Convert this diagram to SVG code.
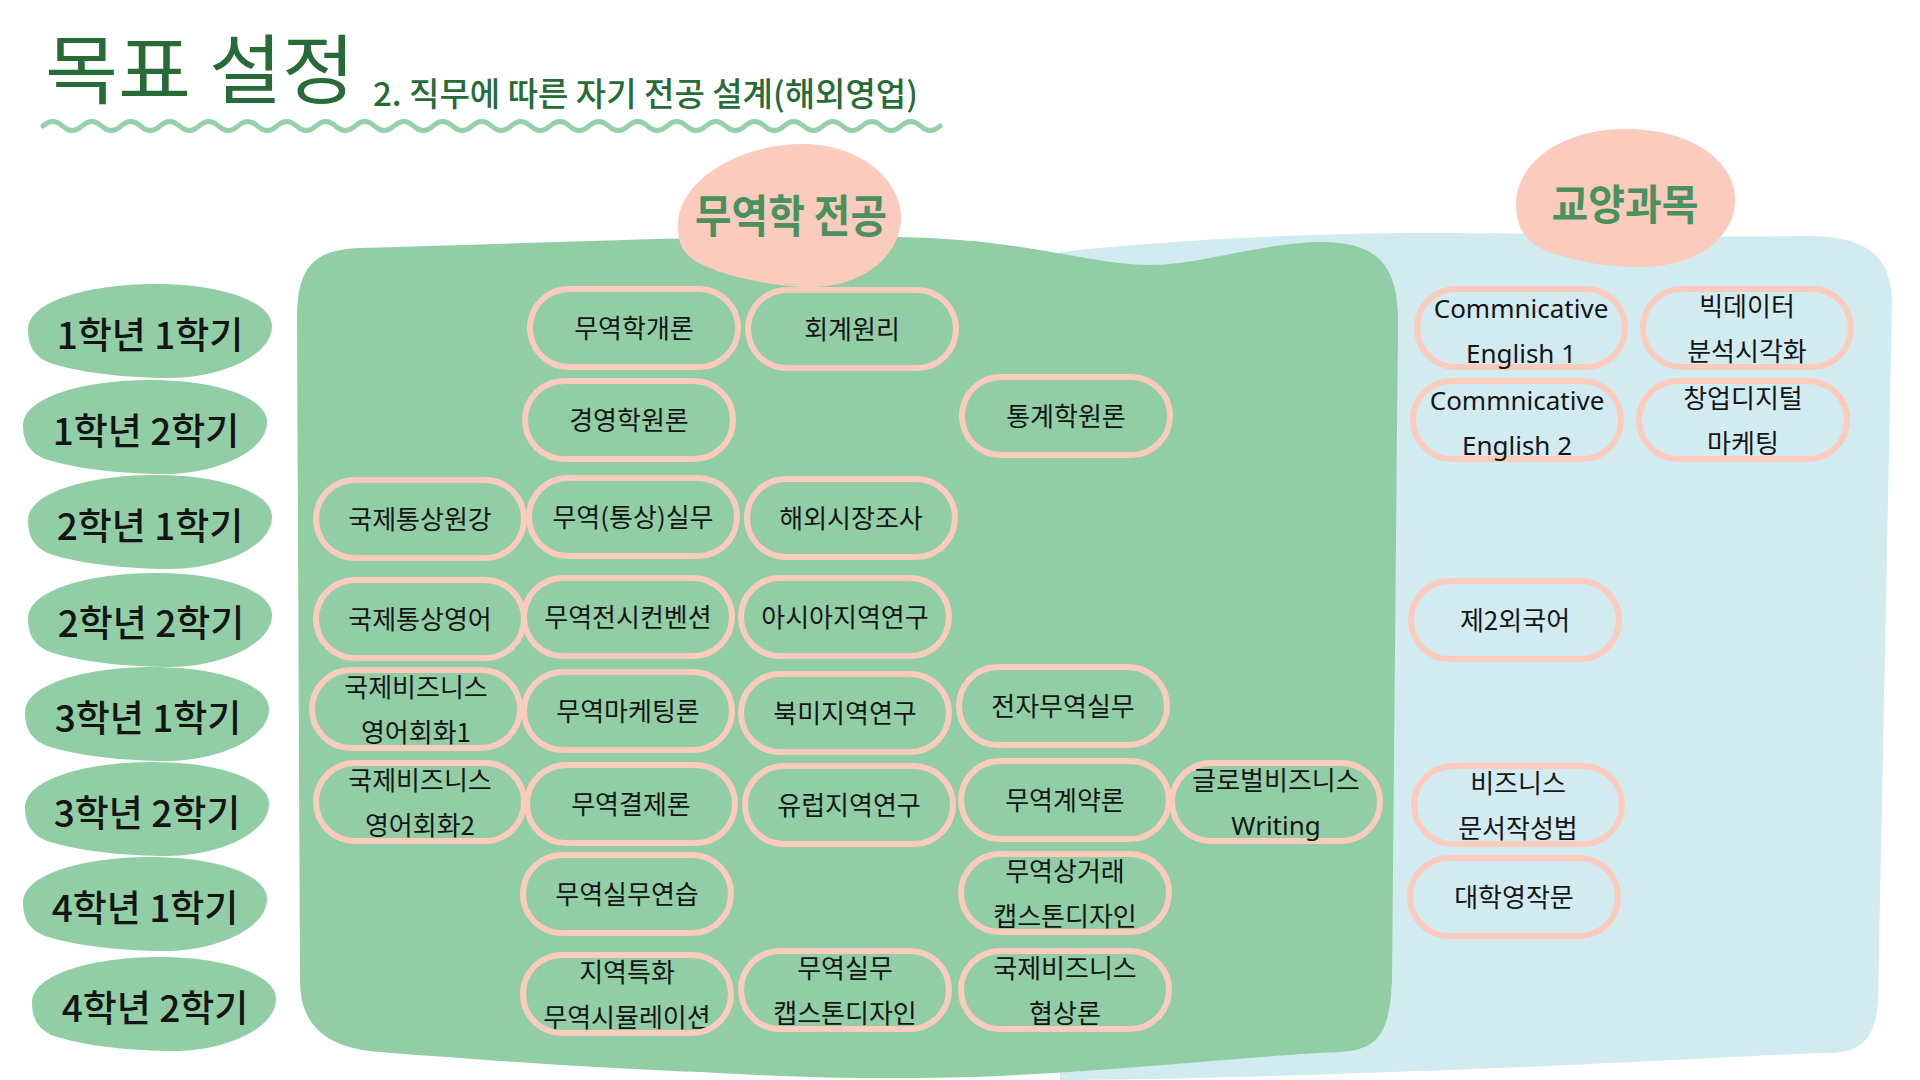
<svg xmlns="http://www.w3.org/2000/svg" xmlns:xlink="http://www.w3.org/1999/xlink" width="1920" height="1080" viewBox="0 0 1920 1080">
<defs>
<style>
.kr{font-family:"Noto Sans CJK KR","Noto Sans",sans-serif;}
.en{font-family:"Noto Sans","Noto Sans CJK KR",sans-serif;}
.title{fill:#276b38;}
.sem{font-size:37px;font-weight:500;fill:#151515;text-anchor:middle;}
.semblob{fill:#92cea5;}
.t{font-size:26px;fill:#151515;text-anchor:middle;}
.te{font-size:26px;fill:#151515;text-anchor:middle;}
.pill{fill:none;stroke:#fbcbbd;stroke-width:6;}
.head{font-weight:700;fill:#4b9160;text-anchor:middle;}
</style>
<path id="semshape" d="M -122 -2 C -122 -30 -60 -47 5 -47 C 70 -47 122 -30 122 -5 C 122 25 70 47 20 47 C -20 47 -70 42 -100 32 C -118 25 -122 12 -122 -2 Z"/>
</defs>
<rect width="1920" height="1080" fill="#ffffff"/>

<!-- background regions -->
<path id="general-area" d="M 1060 252 C 1150 242 1300 232 1450 233 C 1600 234 1700 238 1800 236 C 1860 235 1890 250 1892 300 L 1878 1000 C 1876 1040 1860 1052 1830 1053 C 1750 1055 1650 1062 1500 1068 C 1300 1076 1150 1080 1060 1080 Z" fill="#d2ebf0"/>
<path id="major-area" d="M 297 320 C 297 270 310 250 360 248 C 480 245 600 240 700 238 C 800 236 880 234 960 240 C 1050 247 1100 265 1150 265 C 1200 265 1260 243 1320 242 C 1370 242 1398 258 1398 320 L 1392 980 C 1390 1030 1380 1050 1340 1052 C 1250 1056 1150 1068 1000 1076 C 900 1080 800 1078 700 1072 C 600 1068 480 1060 380 1052 C 320 1048 300 1020 300 980 Z" fill="#92cea5"/>

<!-- title -->
<g id="title">
<text class="kr title" x="45" y="98" font-size="76" textLength="310" lengthAdjust="spacingAndGlyphs">목표 설정</text>
<text class="kr title" x="373" y="106" font-size="33" font-weight="500" textLength="545" lengthAdjust="spacingAndGlyphs">2. 직무에 따른 자기 전공 설계(해외영업)</text>
<path d="M43 126 q9.75 -9 19.5 0 t19.5 0 t19.5 0 t19.5 0 t19.5 0 t19.5 0 t19.5 0 t19.5 0 t19.5 0 t19.5 0 t19.5 0 t19.5 0 t19.5 0 t19.5 0 t19.5 0 t19.5 0 t19.5 0 t19.5 0 t19.5 0 t19.5 0 t19.5 0 t19.5 0 t19.5 0 t19.5 0 t19.5 0 t19.5 0 t19.5 0 t19.5 0 t19.5 0 t19.5 0 t19.5 0 t19.5 0 t19.5 0 t19.5 0 t19.5 0 t19.5 0 t19.5 0 t19.5 0 t19.5 0 t19.5 0 t19.5 0 t19.5 0 t19.5 0 t19.5 0 t19.5 0 t19.5 0" fill="none" stroke="#95d1a8" stroke-width="5" stroke-linecap="round"/>
</g>

<!-- headers -->
<g id="header-major">
<path d="M 803 144 C 860 144 901 180 901 218 C 901 250 870 286 812 287 C 770 287 720 275 697 262 C 680 252 678 240 678 225 C 678 180 740 144 803 144 Z" fill="#fbcbbd"/>
<text class="kr head" x="791" y="233" font-size="45" textLength="192" lengthAdjust="spacingAndGlyphs">무역학 전공</text>
</g>
<g id="header-general">
<path d="M 1625 129 C 1690 129 1735 160 1735 200 C 1735 235 1700 267 1640 267 C 1600 267 1560 258 1540 248 C 1522 238 1516 222 1516 205 C 1516 160 1565 129 1625 129 Z" fill="#fbcbbd"/>
<text class="kr head" x="1625" y="220" font-size="42" textLength="147" lengthAdjust="spacingAndGlyphs">교양과목</text>
</g>

<!-- semesters -->
<g id="sem-1-1"><use href="#semshape" class="semblob" transform="translate(150,331)"/><text class="kr sem" x="150" y="349">1학년 1학기</text></g>
<g id="sem-1-2"><use href="#semshape" class="semblob" transform="translate(145,427)"/><text class="kr sem" x="146" y="445">1학년 2학기</text></g>
<g id="sem-2-1"><use href="#semshape" class="semblob" transform="translate(150,522)"/><text class="kr sem" x="150" y="540">2학년 1학기</text></g>
<g id="sem-2-2"><use href="#semshape" class="semblob" transform="translate(150,620)"/><text class="kr sem" x="151" y="637">2학년 2학기</text></g>
<g id="sem-3-1"><use href="#semshape" class="semblob" transform="translate(147,714)"/><text class="kr sem" x="148" y="732">3학년 1학기</text></g>
<g id="sem-3-2"><use href="#semshape" class="semblob" transform="translate(147,809)"/><text class="kr sem" x="147" y="827">3학년 2학기</text></g>
<g id="sem-4-1"><use href="#semshape" class="semblob" transform="translate(145,904)"/><text class="kr sem" x="145" y="922">4학년 1학기</text></g>
<g id="sem-4-2"><use href="#semshape" class="semblob" transform="translate(154,1004)"/><text class="kr sem" x="155" y="1022">4학년 2학기</text></g>

<!-- major courses -->
<g id="c-trade-intro"><text class="kr t" x="634" y="338">무역학개론</text><rect class="pill" x="530" y="289" width="208" height="78" rx="39"/></g>
<g id="c-accounting"><text class="kr t" x="852" y="339">회계원리</text><rect class="pill" x="748" y="290" width="208" height="78" rx="39"/></g>
<g id="c-management"><text class="kr t" x="629" y="430">경영학원론</text><rect class="pill" x="525" y="381" width="208" height="78" rx="39"/></g>
<g id="c-statistics"><text class="kr t" x="1066" y="426">통계학원론</text><rect class="pill" x="962" y="377" width="208" height="78" rx="39"/></g>
<g id="c-intl-trade-reading"><text class="kr t" x="420" y="529">국제통상원강</text><rect class="pill" x="316" y="480" width="208" height="78" rx="39"/></g>
<g id="c-trade-practice"><text class="kr t" x="633" y="527">무역(통상)실무</text><rect class="pill" x="529" y="478" width="208" height="78" rx="39"/></g>
<g id="c-market-research"><text class="kr t" x="851" y="528">해외시장조사</text><rect class="pill" x="747" y="479" width="208" height="78" rx="39"/></g>
<g id="c-intl-trade-english"><text class="kr t" x="420" y="629">국제통상영어</text><rect class="pill" x="316" y="580" width="208" height="78" rx="39"/></g>
<g id="c-exhibition"><text class="kr t" x="628" y="627">무역전시컨벤션</text><rect class="pill" x="524" y="578" width="208" height="78" rx="39"/></g>
<g id="c-asia"><text class="kr t" x="845" y="627">아시아지역연구</text><rect class="pill" x="741" y="578" width="208" height="78" rx="39"/></g>
<g id="c-biz-conv-1"><text class="kr t"><tspan x="416" y="697">국제비즈니스</tspan><tspan x="416" y="742">영어회화1</tspan></text><rect class="pill" x="312" y="670" width="208" height="78" rx="39"/></g>
<g id="c-trade-marketing"><text class="kr t" x="628" y="721">무역마케팅론</text><rect class="pill" x="524" y="672" width="208" height="78" rx="39"/></g>
<g id="c-north-america"><text class="kr t" x="845" y="723">북미지역연구</text><rect class="pill" x="741" y="674" width="208" height="78" rx="39"/></g>
<g id="c-e-trade"><text class="kr t" x="1063" y="716">전자무역실무</text><rect class="pill" x="959" y="667" width="208" height="78" rx="39"/></g>
<g id="c-biz-conv-2"><text class="kr t"><tspan x="420" y="790">국제비즈니스</tspan><tspan x="420" y="835">영어회화2</tspan></text><rect class="pill" x="316" y="763" width="208" height="78" rx="39"/></g>
<g id="c-settlement"><text class="kr t" x="631" y="814">무역결제론</text><rect class="pill" x="527" y="765" width="208" height="78" rx="39"/></g>
<g id="c-europe"><text class="kr t" x="849" y="815">유럽지역연구</text><rect class="pill" x="745" y="766" width="208" height="78" rx="39"/></g>
<g id="c-contract"><text class="kr t" x="1065" y="810">무역계약론</text><rect class="pill" x="961" y="761" width="208" height="78" rx="39"/></g>
<g id="c-global-writing"><rect class="pill" x="1172" y="763" width="208" height="78" rx="39"/><text class="kr t"><tspan x="1276" y="790">글로벌비즈니스</tspan><tspan x="1276" y="835" class="en" style="font-size:26px">Writing</tspan></text></g>
<g id="c-practice-drill"><text class="kr t" x="627" y="904">무역실무연습</text><rect class="pill" x="523" y="855" width="208" height="78" rx="39"/></g>
<g id="c-commerce-capstone"><text class="kr t"><tspan x="1065" y="881">무역상거래</tspan><tspan x="1065" y="926">캡스톤디자인</tspan></text><rect class="pill" x="961" y="854" width="208" height="78" rx="39"/></g>
<g id="c-regional-sim"><text class="kr t"><tspan x="627" y="982">지역특화</tspan><tspan x="627" y="1027">무역시뮬레이션</tspan></text><rect class="pill" x="523" y="955" width="208" height="78" rx="39"/></g>
<g id="c-practice-capstone"><text class="kr t"><tspan x="845" y="978">무역실무</tspan><tspan x="845" y="1023">캡스톤디자인</tspan></text><rect class="pill" x="741" y="951" width="208" height="78" rx="39"/></g>
<g id="c-negotiation"><text class="kr t"><tspan x="1065" y="978">국제비즈니스</tspan><tspan x="1065" y="1023">협상론</tspan></text><rect class="pill" x="961" y="951" width="208" height="78" rx="39"/></g>

<!-- general courses -->
<g id="g-comm-english-1"><rect class="pill" x="1417" y="289" width="208" height="78" rx="39"/><text class="en te"><tspan x="1521" y="318">Commnicative</tspan><tspan x="1521" y="363">English 1</tspan></text></g>
<g id="g-bigdata"><text class="kr t"><tspan x="1747" y="316">빅데이터</tspan><tspan x="1747" y="361">분석시각화</tspan></text><rect class="pill" x="1643" y="289" width="208" height="78" rx="39"/></g>
<g id="g-comm-english-2"><rect class="pill" x="1413" y="381" width="208" height="78" rx="39"/><text class="en te"><tspan x="1517" y="410">Commnicative</tspan><tspan x="1517" y="455">English 2</tspan></text></g>
<g id="g-startup-marketing"><text class="kr t"><tspan x="1743" y="408">창업디지털</tspan><tspan x="1743" y="453">마케팅</tspan></text><rect class="pill" x="1639" y="381" width="208" height="78" rx="39"/></g>
<g id="g-second-language"><text class="kr t" x="1515" y="630">제2외국어</text><rect class="pill" x="1411" y="581" width="208" height="78" rx="39"/></g>
<g id="g-biz-docs"><text class="kr t"><tspan x="1518" y="793">비즈니스</tspan><tspan x="1518" y="838">문서작성법</tspan></text><rect class="pill" x="1414" y="766" width="208" height="78" rx="39"/></g>
<g id="g-college-writing"><text class="kr t" x="1514" y="907">대학영작문</text><rect class="pill" x="1410" y="858" width="208" height="78" rx="39"/></g>

<g id="connectors"></g>
</svg>
